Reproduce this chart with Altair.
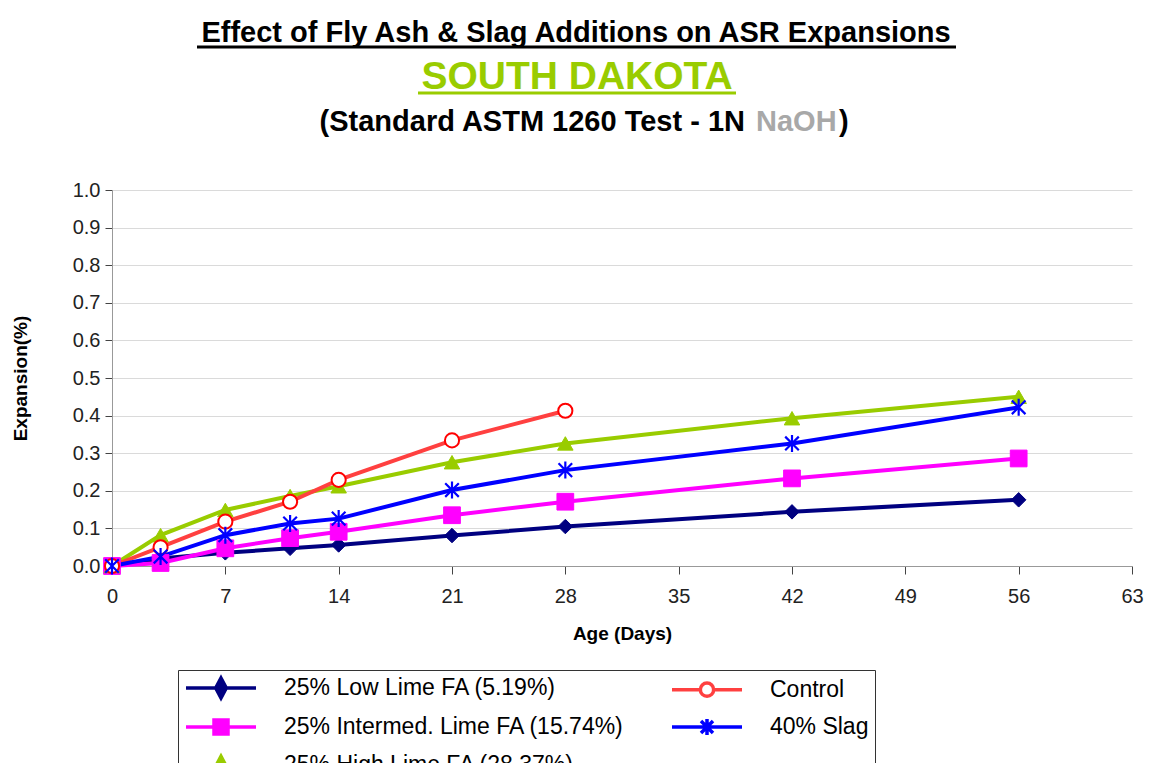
import altair as alt
import pandas as pd

# ---------------- data ----------------
days_long = [0, 3, 7, 11, 14, 21, 28, 42, 56]
days_control = [0, 3, 7, 11, 14, 21, 28]

low_lime = [0.0, 0.020, 0.035, 0.047, 0.056, 0.081, 0.105, 0.144, 0.176]
intermed_lime = [0.0, 0.008, 0.047, 0.074, 0.091, 0.135, 0.171, 0.233, 0.286]
high_lime = [0.0, 0.082, 0.149, 0.186, 0.212, 0.276, 0.326, 0.393, 0.450]
control = [0.0, 0.050, 0.118, 0.171, 0.229, 0.334, 0.413]
slag = [0.0, 0.025, 0.082, 0.113, 0.126, 0.202, 0.255, 0.326, 0.422]

series_names = [
    "25% Low Lime FA (5.19%)",
    "25% Intermed. Lime FA (15.74%)",
    "25% High Lime FA (28.37%)",
    "Control",
    "40% Slag",
]
series_days = [days_long, days_long, days_long, days_control, days_long]
series_values = [low_lime, intermed_lime, high_lime, control, slag]

x_ticks = [0, 7, 14, 21, 28, 35, 42, 49, 56, 63]
y_ticks = [0.0, 0.1, 0.2, 0.3, 0.4, 0.5, 0.6, 0.7, 0.8, 0.9, 1.0]

# ---------------- styles ----------------
line_colors = ["#000080", "#FF00FF", "#99CC00", "#FF4040", "#0000FF"]
marker_strokes = ["#000080", "#FF00FF", "#99CC00", "#FF0000", "#0000FF"]
marker_fills = ["#000080", "#FF00FF", "#99CC00", "#FFFFFF", "transparent"]
asterisk = "M-0.8,-0.8L0.8,0.8M-0.8,0.8L0.8,-0.8M0,-1V1"
marker_shapes = ["diamond", "square", "triangle-up", "circle", asterisk]
marker_sizes = [210, 280, 240, 200, 289]
marker_stroke_w = [1, 1, 1, 2, 2.2]
# legend glyphs: a line with the marker drawn on it (filled shapes get
# inner strokes so the stroke-only legend symbols look solid)
legend_paths = [
    "M-3.5,0H3.5M0,-1L0.53,0L0,1L-0.53,0ZM0,-0.7V0.7M-0.25,-0.35V0.35M0.25,-0.35V0.35",
    "M-3.5,0H3.5M-0.7,-0.7H0.7V0.7H-0.7ZM-0.7,-0.35H0.7M-0.7,0.35H0.7M-0.35,-0.7V0.7M0.35,-0.7V0.7",
    "M-3.5,0H3.5M0,-0.875L0.735,0.525H-0.735ZM0,-0.525V0.525M-0.35,0V0.525M0.35,0V0.525",
    "M-3.5,0H-0.665M0.665,0H3.5M-0.665,0A0.665,0.665 0 1,1 0.665,0A0.665,0.665 0 1,1 -0.665,0Z",
    "M-3.5,0H3.5M-0.6,-0.6L0.6,0.6M-0.6,0.6L0.6,-0.6M0,-0.8V0.8",
]

FONT = "Liberation Sans"

rows = []
for name, ds, vs in zip(series_names, series_days, series_values):
    for d, v in zip(ds, vs):
        rows.append({"series": name, "day": d, "value": v})
df = pd.DataFrame(rows)

x_enc = alt.X(
    "day:Q",
    scale=alt.Scale(domain=[0, 63], nice=False, zero=False),
    axis=alt.Axis(
        values=x_ticks, title="Age (Days)", grid=False, tickSize=8,
        tickColor="#444", domainColor="#999", labelFontSize=20,
        labelColor="#222", labelPadding=12, labelFlush=False,
        titleFontSize=19, titleFontWeight="bold", titleColor="#000",
        titlePadding=18,
    ),
)
y_enc = alt.Y(
    "value:Q",
    scale=alt.Scale(domain=[0, 1], nice=False),
    axis=alt.Axis(
        values=y_ticks, format=".1f", tickSize=7, tickColor="#444",
        domainColor="#999", grid=True, gridColor="#DADADA", gridWidth=1,
        labelFontSize=20, labelColor="#222", labelPadding=5,
        title="Expansion(%)", titleFontSize=19, titleFontWeight="bold",
        titleColor="#000", titlePadding=42,
    ),
)

line_layers = []
point_layers = []
for i, name in enumerate(series_names):
    sub = alt.Chart(df).transform_filter(alt.datum.series == name)
    line_layers.append(
        sub.mark_line(color=line_colors[i], strokeWidth=4).encode(x=x_enc, y=y_enc)
    )
    props = dict(shape=marker_shapes[i], size=marker_sizes[i], opacity=1,
                 stroke=marker_strokes[i], strokeWidth=marker_stroke_w[i])
    if marker_fills[i] == "transparent":
        mk = sub.mark_point(filled=False, **props)
    else:
        mk = sub.mark_point(filled=True, fill=marker_fills[i], **props)
    point_layers.append(mk.encode(x=x_enc, y=y_enc))

leg = alt.Legend(
    title=None, orient="none", legendX=66, legendY=480, columns=2,
    symbolSize=400, symbolStrokeWidth=3.5, symbolOffset=25,
    labelFontSize=23, labelLimit=600, labelOffset=51,
    rowPadding=7, columnPadding=40, padding=6, strokeColor="#333",
)
# invisible layer whose only job is to carry the legend
legend_layer = alt.Chart(df).mark_point(
    filled=False, size=400, opacity=0, strokeWidth=3.5
).encode(
    x=x_enc,
    y=y_enc,
    stroke=alt.Stroke("series:N", scale=alt.Scale(domain=series_names, range=line_colors), legend=leg),
    shape=alt.Shape("series:N", scale=alt.Scale(domain=series_names, range=legend_paths), legend=leg),
)

one = alt.Data(values=[{}])


def label(text, x, y, size, color="#000", align="center", weight="bold"):
    return alt.Chart(one).mark_text(
        text=text, fontSize=size, fontWeight=weight, color=color,
        align=align, baseline="middle", font=FONT,
    ).encode(x=alt.value(x), y=alt.value(y))


def underline(x1, x2, y, color):
    return alt.Chart(one).mark_rule(color=color, strokeWidth=3).encode(
        x=alt.value(x1), x2=alt.value(x2), y=alt.value(y)
    )


titles = [
    label("Effect of Fly Ash & Slag Additions on ASR Expansions", 464, -157, 29),
    underline(85, 844, -143, "#000000"),
    label("SOUTH DAKOTA", 465, -113, 39, color="#99CC00"),
    underline(306, 624, -97, "#99CC00"),
    label("(Standard ASTM 1260 Test - 1N", 633, -68, 29, align="right"),
    label("NaOH", 644, -68, 29, color="#A8A8A8", align="left"),
    label(")", 727, -68, 29, align="left"),
]

chart = alt.layer(*line_layers, *point_layers, legend_layer, *titles).properties(
    width=1020,
    height=376,
    autosize=alt.AutoSizeParams(type="none"),
    padding={"left": 112, "top": 190, "right": 17, "bottom": 197},
    background="#FFFFFF",
).configure(font=FONT).configure_view(stroke=None).configure_axis(
    labelFont=FONT, titleFont=FONT
).configure_legend(labelFont=FONT, labelColor="#000")

chart.save("out.html", embed_options={"renderer": "svg", "actions": False})
